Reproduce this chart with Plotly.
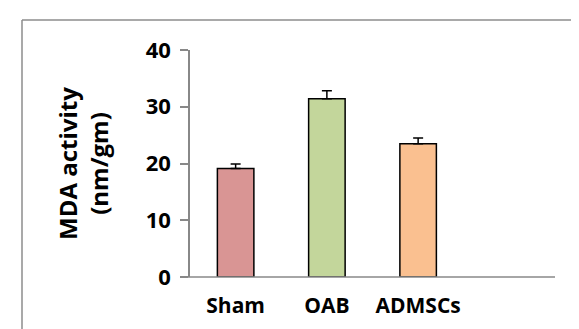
import plotly.graph_objects as go

categories = ["Sham", "OAB", "ADMSCs"]
values = [19.1, 31.4, 23.5]
errors = [0.8, 1.4, 1.0]
colors = ["#D99594", "#C3D69B", "#FAC090"]
y_ticks = [0, 10, 20, 30, 40]

FONT = "Open Sans"
L, R, T, B = 182, 32, 42, 60
W, H = 579, 329
pw, ph = W - L - R, H - T - B

fig = go.Figure()
fig.add_trace(go.Bar(
    x=list(range(len(categories))),
    y=values,
    marker=dict(color=colors, line=dict(color="black", width=1.5)),
    width=0.4,
    error_y=dict(type="data", array=errors, arrayminus=[0] * len(errors),
                 symmetric=False, color="black", thickness=1.5, width=5),
))

def px_to_paper_x(px):
    return (px - L) / pw

def px_to_paper_y(py):
    return (H - B - py) / ph

frame_color = "#8C8C8C"
fig.add_shape(type="line", xref="paper", yref="paper",
              x0=px_to_paper_x(14), x1=px_to_paper_x(14),
              y0=px_to_paper_y(12), y1=px_to_paper_y(340),
              line=dict(color=frame_color, width=1.5))
fig.add_shape(type="line", xref="paper", yref="paper",
              x0=px_to_paper_x(14), x1=px_to_paper_x(590),
              y0=px_to_paper_y(12), y1=px_to_paper_y(12),
              line=dict(color=frame_color, width=1.5))
fig.add_shape(type="line", xref="paper", yref="paper",
              x0=px_to_paper_x(174), x1=1, y0=0, y1=0,
              line=dict(color="#888888", width=1.5))

fig.update_layout(
    width=W, height=H,
    margin=dict(l=L, r=R, t=T, b=B),
    paper_bgcolor="white", plot_bgcolor="white",
    showlegend=False,
    font=dict(family=FONT, color="black"),
    xaxis=dict(
        range=[-0.5, 3.5],
        tickvals=list(range(len(categories))),
        ticktext=categories,
        tickfont=dict(family=FONT, size=21, color="black", weight="bold"),
        showline=False, showgrid=False, zeroline=False, ticks="",
        ticklabelstandoff=14,
    ),
    yaxis=dict(
        range=[0, 40],
        tickvals=y_ticks,
        tickfont=dict(family=FONT, size=22, color="black", weight="bold"),
        showline=True, linecolor="#888888", linewidth=1.5,
        ticks="outside", ticklen=8, tickcolor="#888888", tickwidth=1.5,
        ticklabelstandoff=5,
        showgrid=False, zeroline=False,
        title=dict(text="MDA activity<br>(nm/gm)",
                   font=dict(family=FONT, size=24, color="black", weight="bold"),
                   standoff=30),
    ),
)

fig.write_html("out.html")
